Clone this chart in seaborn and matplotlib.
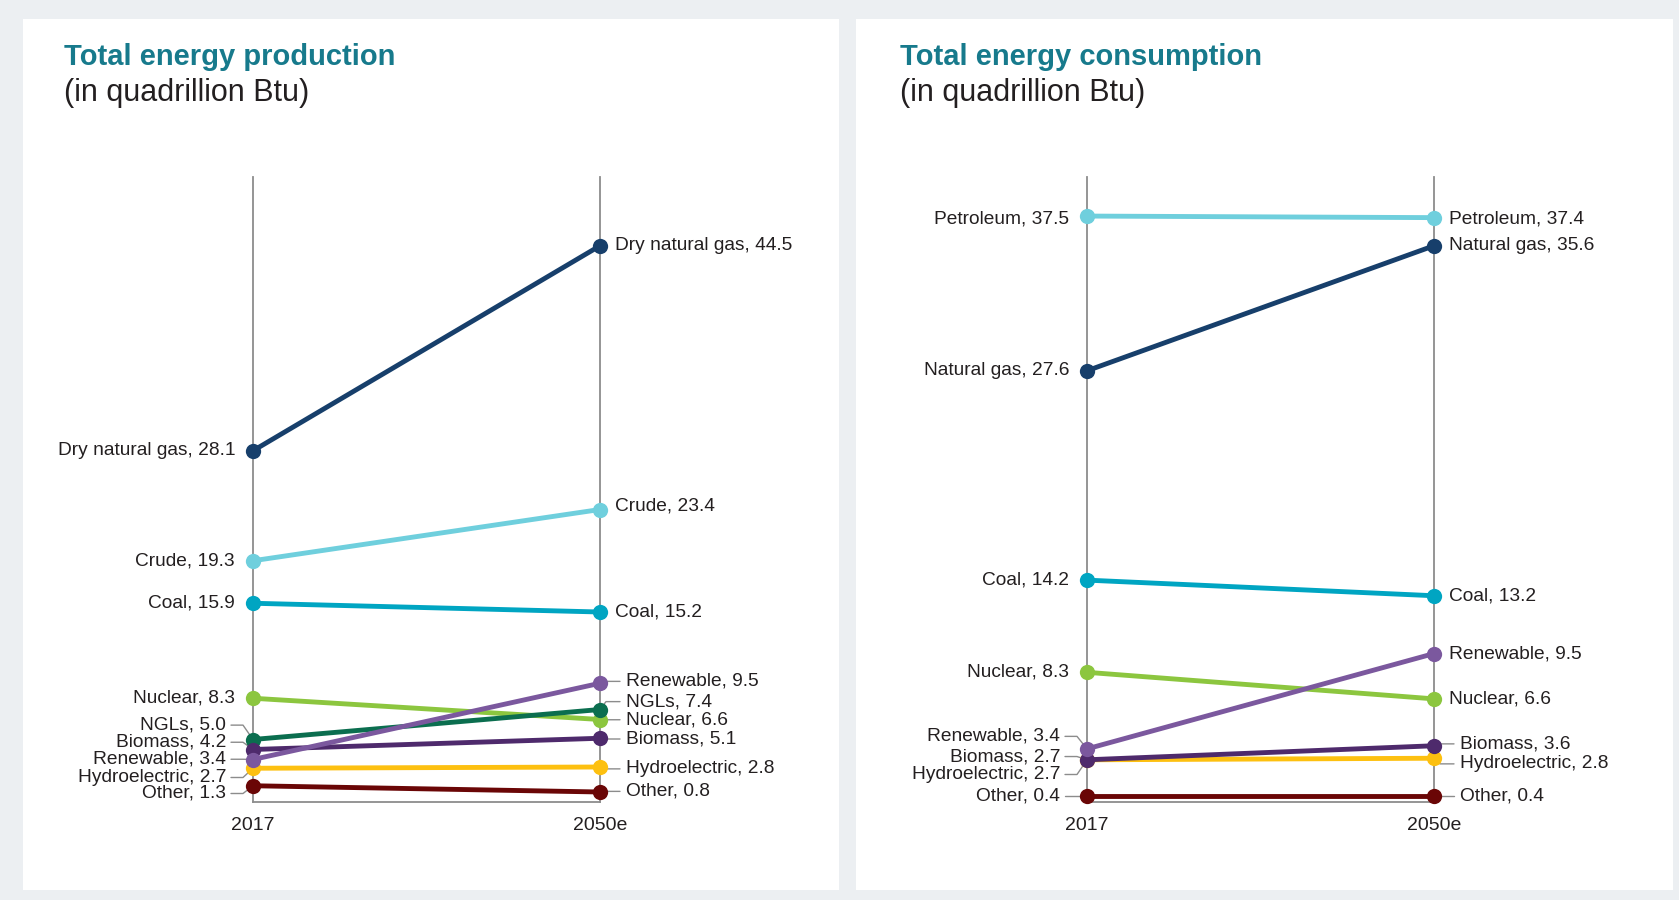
import matplotlib
matplotlib.use("Agg")
import matplotlib.pyplot as plt
import seaborn as sns
import pandas as pd
from matplotlib.patches import Rectangle

# --- data -------------------------------------------------------------
years = ["2017", "2050e"]

prod_sources = ["Dry natural gas", "Crude", "Coal", "Nuclear", "NGLs",
                "Biomass", "Hydroelectric", "Other", "Renewable"]
prod_2017 = [28.1, 19.3, 15.9, 8.3, 5.0, 4.2, 2.7, 1.3, 3.4]
prod_2050 = [44.5, 23.4, 15.2, 6.6, 7.4, 5.1, 2.8, 0.8, 9.5]

cons_sources = ["Petroleum", "Natural gas", "Coal", "Nuclear",
                "Hydroelectric", "Biomass", "Other", "Renewable"]
cons_2017 = [37.5, 27.6, 14.2, 8.3, 2.7, 2.7, 0.4, 3.4]
cons_2050 = [37.4, 35.6, 13.2, 6.6, 2.8, 3.6, 0.4, 9.5]

colors = {
    "Dry natural gas": "#173F6B", "Natural gas": "#173F6B",
    "Crude": "#6FCFDD", "Petroleum": "#6FCFDD",
    "Coal": "#00A5C2", "Nuclear": "#8CC63F", "NGLs": "#0B6E4F",
    "Biomass": "#4E2A6C", "Renewable": "#7B589E",
    "Hydroelectric": "#FDC010", "Other": "#6A0606",
}

# label placement (layout only): label y where it differs from the point,
# and which labels get a leader line
prod_lab_2017 = {"NGLs": 6.15, "Biomass": 4.78, "Renewable": 3.42,
                 "Hydroelectric": 1.96, "Other": 0.68}
prod_lab_2050 = {"Renewable": 9.65, "NGLs": 8.03, "Nuclear": 6.58,
                 "Biomass": 5.04, "Hydroelectric": 2.65, "Other": 0.85,
                 "Crude": 23.65}
prod_lead_2017 = ["NGLs", "Biomass", "Renewable", "Hydroelectric", "Other"]
prod_lead_2050 = ["Renewable", "NGLs", "Nuclear", "Biomass",
                  "Hydroelectric", "Other"]

cons_lab_2017 = {"Renewable": 4.2, "Biomass": 2.91, "Hydroelectric": 1.76,
                 "Petroleum": 37.3}
cons_lab_2050 = {"Biomass": 3.72, "Hydroelectric": 2.44, "Petroleum": 37.3}
cons_lead_2017 = ["Renewable", "Biomass", "Hydroelectric", "Other"]
cons_lead_2050 = ["Biomass", "Hydroelectric", "Other"]

W, H = 1679, 900
AXIS_GRAY = "#8C8C8C"
TEXT = "#231F20"
TITLE = "#177A8C"
LABEL_SIZE = 13.8

sns.set_theme(style="white")
plt.rcParams["font.family"] = ["Liberation Sans", "DejaVu Sans"]

fig = plt.figure(figsize=(W / 100, H / 100), dpi=100)
fig.patch.set_facecolor("#ECEFF2")

# white cards
for x0, x1 in [(23, 839), (856, 1673)]:
    fig.add_artist(Rectangle((x0 / W, 1 - 890 / H), (x1 - x0) / W, (890 - 19) / H,
                             transform=fig.transFigure, facecolor="white",
                             edgecolor="none", zorder=0))


def draw_panel(ax_left_px, sources, v0, v1, lab0, lab1, lead0, lead1, ymax,
               title, title_x):
    ax_w = 347
    ax = fig.add_axes([ax_left_px / W, 1 - 802 / H, ax_w / W, (802 - 177) / H])
    ax.set_facecolor("none")

    df = pd.DataFrame({
        "source": sources * 2,
        "pos": [0] * len(sources) + [1] * len(sources),
        "value": v0 + v1,
    })
    sns.lineplot(data=df, x="pos", y="value", hue="source", hue_order=sources,
                 palette=colors, marker="o", markersize=11, markeredgewidth=0,
                 linewidth=3.5, legend=False, ax=ax, zorder=3)
    for ln in ax.lines:
        ln.set_clip_on(False)

    ax.set_xlim(0, 1)
    ax.set_ylim(0, ymax)
    ax.set_xlabel("")
    ax.set_ylabel("")
    ax.set_yticks([])
    ax.set_xticks([0, 1])
    ax.set_xticklabels(years, fontsize=14, color=TEXT)
    ax.tick_params(axis="x", length=0, pad=11)
    for s in ["left", "right", "bottom"]:
        ax.spines[s].set_visible(True)
        ax.spines[s].set_color(AXIS_GRAY)
        ax.spines[s].set_linewidth(1.3)
    ax.spines["top"].set_visible(False)

    px = 1 / ax_w  # one pixel in x data units
    for name, a, b in zip(sources, v0, v1):
        # 2017 side
        ly = lab0.get(name, a)
        if name in lead0:
            ax.plot([-22 * px, -10 * px, 0], [ly, ly, a], color=AXIS_GRAY,
                    lw=1, clip_on=False, zorder=1)
            tx = -27 * px
        else:
            tx = -18 * px
        ax.text(tx, ly, f"{name}, {a:.1f}", ha="right", va="center",
                fontsize=LABEL_SIZE, color=TEXT, clip_on=False)
        # 2050 side
        ly = lab1.get(name, b)
        if name in lead1:
            ax.plot([1, 1 + 6 * px, 1 + 20 * px], [b, ly, ly], color=AXIS_GRAY,
                    lw=1, clip_on=False, zorder=1)
            tx = 1 + 26 * px
        else:
            tx = 1 + 15 * px
        ax.text(tx, ly, f"{name}, {b:.1f}", ha="left", va="center",
                fontsize=LABEL_SIZE, color=TEXT, clip_on=False)

    fig.text(title_x / W, 1 - 57 / H, title, fontsize=21, fontweight="bold",
             color=TITLE, va="center", ha="left")
    fig.text(title_x / W, 1 - 93 / H, "(in quadrillion Btu)", fontsize=22,
             color=TEXT, va="center", ha="left")
    return ax


draw_panel(253, prod_sources, prod_2017, prod_2050, prod_lab_2017,
           prod_lab_2050, prod_lead_2017, prod_lead_2050, 50,
           "Total energy production", 64)
draw_panel(1087, cons_sources, cons_2017, cons_2050, cons_lab_2017,
           cons_lab_2050, cons_lead_2017, cons_lead_2050, 40,
           "Total energy consumption", 900)

fig.savefig("out.png", dpi=100, facecolor=fig.get_facecolor())
